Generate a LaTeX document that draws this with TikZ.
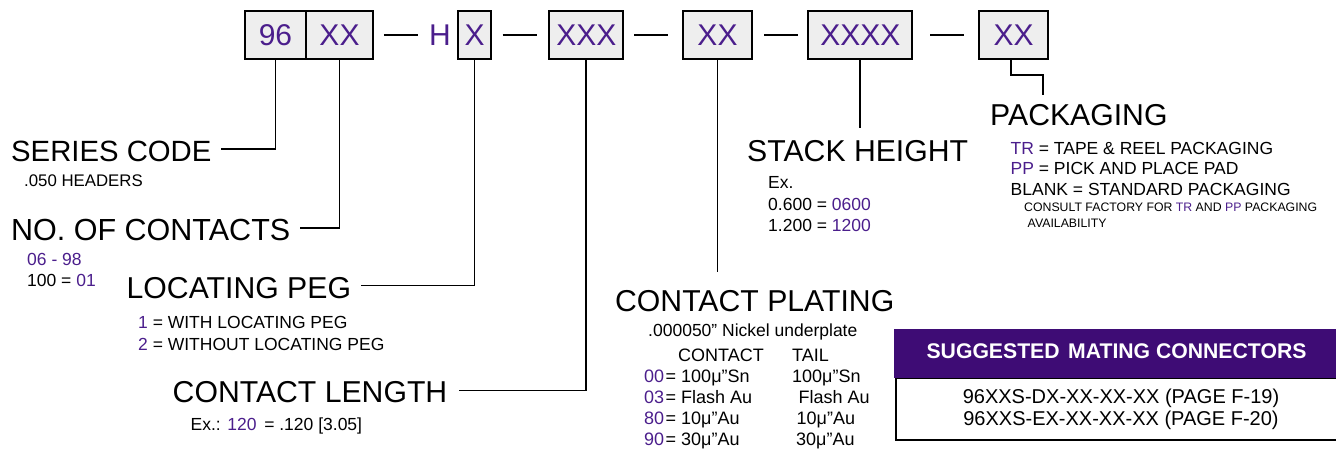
\documentclass[tikz,border=0pt]{standalone}
\usepackage{fontspec}
\setmainfont{Liberation Sans}
\definecolor{pur}{HTML}{4B1E8C}
\definecolor{hdr}{HTML}{3E0C75}
\definecolor{boxgray}{HTML}{EEEEEE}
\begin{document}
\begin{tikzpicture}[x=1pt,y=-1pt,
  pbox/.style={draw,line width=1.8pt,fill=boxgray,inner sep=0,minimum height=48pt,text=pur,font=\fontsize{30}{32}\selectfont},
  ttl/.style={anchor=base west,inner sep=0,font=\fontsize{30.2}{31}\selectfont},
  sm/.style={anchor=base west,inner sep=0,font=\fontsize{17.5}{18}\selectfont},
  tbl/.style={anchor=base west,inner sep=0,font=\fontsize{18}{19}\selectfont},
  tinytxt/.style={anchor=base west,inner sep=0,font=\fontsize{12.3}{13}\selectfont},
  conn/.style={line width=1.8pt},
  dashl/.style={line width=1.3pt}]
\useasboundingbox (0,0) rectangle (1336,449);
% part-number boxes
\node[pbox,minimum width=61pt] (b96) at (275.5,35) {96};
\node[pbox,minimum width=67pt] (bNo) at (339.5,35) {XX};
\node[inner sep=0,text=pur,font=\fontsize{30}{32}\selectfont] (H) at (440,35) {H};
\node[pbox,minimum width=33pt] (bPeg) at (474.5,35) {X};
\node[pbox,minimum width=74pt] (bLen) at (586.3,35) {XXX};
\node[pbox,minimum width=68.4pt] (bPl) at (717.5,35) {XX};
\node[pbox,minimum width=104pt] (bSt) at (860.3,35) {XXXX};
\node[pbox,minimum width=68.4pt] (bPk) at (1013.5,35) {XX};
% dashes
\draw[dashl] ([xshift=10pt]bNo.east) -- ++(34,0);
\draw[dashl] ([xshift=10.7pt]bPeg.east) -- ++(34,0);
\draw[dashl] ([xshift=10pt]bLen.east) -- ++(33.4,0);
\draw[dashl] ([xshift=11.6pt]bPl.east) -- ++(34,0);
\draw[dashl] ([xshift=17pt]bSt.east) -- ++(34,0);
% left labels
\node[ttl,font=\fontsize{29.3}{30}\selectfont] (series) at (11,161.7) {SERIES CODE};
\node[sm,font=\fontsize{16.8}{17}\selectfont] (seriesd) at (24,186.7) {.050 HEADERS};
\node[ttl,font=\fontsize{30.5}{31}\selectfont] (nocon) at (11,240.7) {NO. OF CONTACTS};
\node[sm] (nod1) at (27,265.7) {\textcolor{pur}{06 - 98}};
\node[sm] (nod2) at (27,286.7) {100 = \textcolor{pur}{01}};
\node[ttl] (peg) at (126.5,298.3) {LOCATING PEG};
\node[sm] (peg1) at (138,328.3) {\textcolor{pur}{1} = WITH LOCATING PEG};
\node[sm] (peg2) at (138,350) {\textcolor{pur}{2} = WITHOUT LOCATING PEG};
\node[ttl] (len) at (172.5,402.3) {CONTACT LENGTH};
\node[sm] (len1) at (190.5,430) {Ex.: \textcolor{pur}{120}\, = .120 [3.05]};
\draw[conn] (b96.south) |- ([xshift=9pt,yshift=2.5pt]series.east);
\draw[conn] (bNo.south) |- ([xshift=10pt,yshift=2.5pt]nocon.east);
\draw[conn] (bPeg.south) |- ([xshift=9.5pt,yshift=2.5pt]peg.east);
\draw[conn] (bLen.south) |- ([xshift=11.5pt,yshift=1.5pt]len.east);
% stack height
\node[ttl] (stack) at (747,161.7) {STACK HEIGHT};
\node[sm] (st0) at (768,188.3) {Ex.};
\node[sm] (st1) at (768,210.7) {0.600 = \textcolor{pur}{0600}};
\node[sm] (st2) at (768,231.7) {1.200 = \textcolor{pur}{1200}};
\coordinate (stEnd) at (860.3,128);
\draw[conn] (bSt.south) -- (stEnd);
% packaging
\node[ttl] (pack) at (990,126) {PACKAGING};
\node[sm] (pk1) at (1010.5,154.3) {\textcolor{pur}{TR} = TAPE \& REEL PACKAGING};
\node[sm] (pk2) at (1010.5,175) {\textcolor{pur}{PP} = PICK AND PLACE PAD};
\node[sm] (pk3) at (1010.5,196) {BLANK = STANDARD PACKAGING};
\node[tinytxt] (pk4) at (1024,211.7) {CONSULT FACTORY FOR \textcolor{pur}{TR} AND \textcolor{pur}{PP} PACKAGING};
\node[tinytxt] (pk5) at (1027.5,227.3) {AVAILABILITY};
\coordinate (pkA) at (1010.7,75);
\coordinate (pkB) at (1043.3,75);
\coordinate (pkEnd) at (1043.3,95);
\draw[conn] ([xshift=-2.8pt]bPk.south) -- (pkA) -- (pkB) -- (pkEnd);
% contact plating
\node[ttl,anchor=base] (plat) at (754.7,311.7) {CONTACT PLATING};
\node[sm,anchor=base,font=\fontsize{17.5}{18}\selectfont] (nick) at (752.8,336) {.000050” Nickel underplate};
\node[tbl] (colc) at (678,361.7) {CONTACT};
\node[tbl] (colt) at (792,361.7) {TAIL};
\node[tbl] (r1) at (644,382.3) {\textcolor{pur}{00}\kern1.5pt= 100μ”Sn};
\node[tbl] (t1) at (792,382.3) {100μ”Sn};
\node[tbl] (r2) at (644,403.3) {\textcolor{pur}{03}\kern1.5pt= Flash Au};
\node[tbl] (t2) at (798.5,403.3) {Flash Au};
\node[tbl] (r3) at (644,424.3) {\textcolor{pur}{80}\kern1.5pt= 10μ”Au};
\node[tbl] (t3) at (796.5,424.3) {10μ”Au};
\node[tbl] (r4) at (644,445) {\textcolor{pur}{90}\kern1.5pt= 30μ”Au};
\node[tbl] (t4) at (796,445) {30μ”Au};
\coordinate (plEnd) at (717.5,271.7);
\draw[conn] (bPl.south) -- (plEnd);
% suggested mating connectors
\node[draw,line width=2.5pt,fill=white,inner sep=0,minimum width=446pt,minimum height=62pt,anchor=north west] (body) at (894.5,376.5) {};
\node[fill=hdr,inner sep=0,minimum width=446pt,minimum height=49.2pt,anchor=north west] (hdrbox) at (893.3,328.3) {};
\node[anchor=base,inner sep=0,text=white,font=\bfseries\fontsize{21.2}{22}\selectfont] (hdrtxt) at (1116.5,358.3) {SUGGESTED\hspace{0.4em}MATING CONNECTORS};
\node[anchor=base,inner sep=0,font=\fontsize{20}{21}\selectfont] (m1) at (1121,403.3) {96XXS-DX-XX-XX-XX (PAGE F-19)};
\node[anchor=base,inner sep=0,font=\fontsize{20}{21}\selectfont] (m2) at (1121,425) {96XXS-EX-XX-XX-XX (PAGE F-20)};
\end{tikzpicture}
\end{document}
